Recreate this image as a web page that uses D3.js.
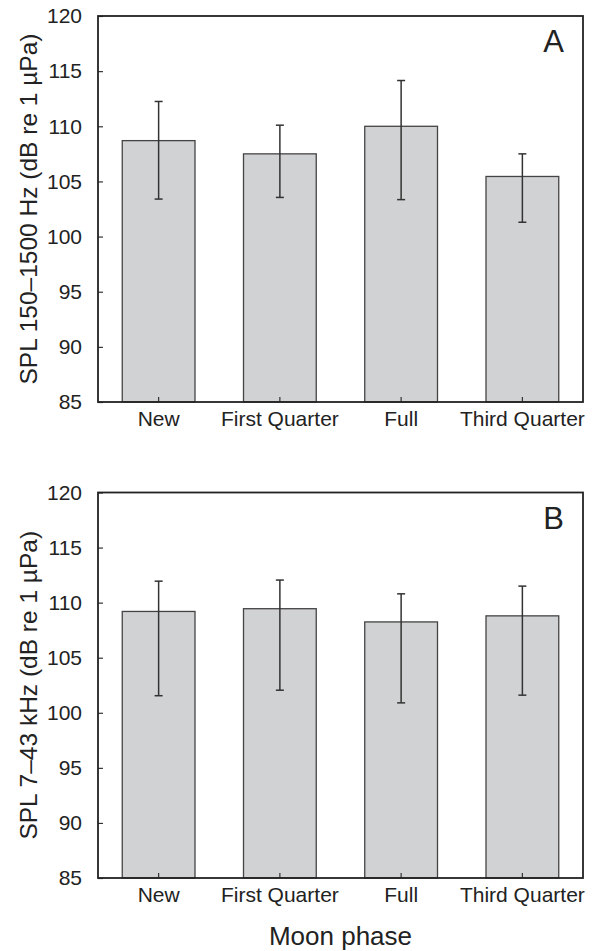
<!DOCTYPE html>
<html>
<head>
<meta charset="utf-8">
<script src="https://cdn.jsdelivr.net/npm/d3@7"></script>
<style>
  body { margin: 0; background: #fff; }
  svg text { font-family: "Liberation Sans", Arial, sans-serif; fill: #222; }
</style>
</head>
<body>
<svg id="chart" width="597" height="951"></svg>
<script>
// Data
const phases = ['New', 'First Quarter', 'Full', 'Third Quarter'];
const yTicks = [85, 90, 95, 100, 105, 110, 115, 120];

// Panel A: SPL 150-1500 Hz
const meanA = [108.7, 107.5, 110.0, 105.45];
const upA   = [112.25, 110.1, 114.15, 107.5];
const lowA  = [103.4, 103.55, 103.35, 101.3];

// Panel B: SPL 7-43 kHz
const meanB = [109.2, 109.45, 108.25, 108.8];
const upB   = [111.95, 112.05, 110.8, 111.5];
const lowB  = [101.55, 102.05, 100.9, 101.6];

const svg = d3.select('#chart');
const left = 98, right = 583;

const x = d3.scaleBand(phases, [left, right]).paddingInner(0.4).paddingOuter(0.2);

function panel(top, bottom, mean, up, low, letter, ylabel) {
    const y = d3.scaleLinear([85, 120], [bottom, top]);
    const g = svg.append('g');

    // bars
    g.selectAll('rect.bar').data(mean).join('rect')
        .attr('class', 'bar')
        .attr('x', (d, i) => x(phases[i]))
        .attr('width', x.bandwidth())
        .attr('y', d => y(d))
        .attr('height', d => y(85) - y(d))
        .attr('fill', '#d1d2d4')
        .attr('stroke', '#444')
        .attr('stroke-width', 1.3);

    // error bars
    const err = g.selectAll('g.err').data(mean).join('g')
        .attr('class', 'err')
        .attr('transform', (d, i) => `translate(${x(phases[i]) + x.bandwidth() / 2},0)`);
    err.append('line')
        .attr('y1', (d, i) => y(up[i])).attr('y2', (d, i) => y(low[i]))
        .attr('stroke', '#333').attr('stroke-width', 1.5);
    err.append('line')
        .attr('x1', -4).attr('x2', 4)
        .attr('y1', (d, i) => y(up[i])).attr('y2', (d, i) => y(up[i]))
        .attr('stroke', '#333').attr('stroke-width', 1.5);
    err.append('line')
        .attr('x1', -4).attr('x2', 4)
        .attr('y1', (d, i) => y(low[i])).attr('y2', (d, i) => y(low[i]))
        .attr('stroke', '#333').attr('stroke-width', 1.5);

    // axes, ticks inward
    const yAxis = d3.axisLeft(y).tickValues(yTicks).tickSizeInner(-5).tickSizeOuter(0).tickPadding(16);
    const ya = g.append('g').attr('transform', `translate(${left},0)`).call(yAxis);
    ya.select('.domain').remove();
    ya.selectAll('line').attr('stroke', '#333').attr('stroke-width', 1.2);
    ya.selectAll('text').attr('font-size', 21).attr('fill', '#222')
        .attr('font-family', '"Liberation Sans", Arial, sans-serif');

    const xAxis = d3.axisBottom(x).tickSizeInner(-5).tickSizeOuter(0).tickPadding(9);
    const xa = g.append('g').attr('transform', `translate(0,${bottom})`).call(xAxis);
    xa.select('.domain').remove();
    xa.selectAll('line').attr('stroke', '#333').attr('stroke-width', 1.2);
    xa.selectAll('text').attr('font-size', 21).attr('fill', '#222')
        .attr('font-family', '"Liberation Sans", Arial, sans-serif');

    // frame
    g.append('rect')
        .attr('x', left).attr('y', top)
        .attr('width', right - left).attr('height', bottom - top)
        .attr('fill', 'none').attr('stroke', '#222').attr('stroke-width', 1.8);

    // panel letter
    g.append('text').text(letter)
        .attr('x', right - 19).attr('y', top + 36)
        .attr('text-anchor', 'end').attr('font-size', 31);

    // y label
    g.append('text').text(ylabel)
        .attr('transform', `translate(37,${(top + bottom) / 2}) rotate(-90)`)
        .attr('text-anchor', 'middle').attr('font-size', 24.5);
}

panel(16, 402, meanA, upA, lowA, 'A', 'SPL 150–1500 Hz (dB re 1 µPa)');
panel(492.5, 878, meanB, upB, lowB, 'B', 'SPL 7–43 kHz (dB re 1 µPa)');

svg.append('text').text('Moon phase')
    .attr('x', (left + right) / 2).attr('y', 945)
    .attr('text-anchor', 'middle').attr('font-size', 26);
</script>
</body>
</html>
